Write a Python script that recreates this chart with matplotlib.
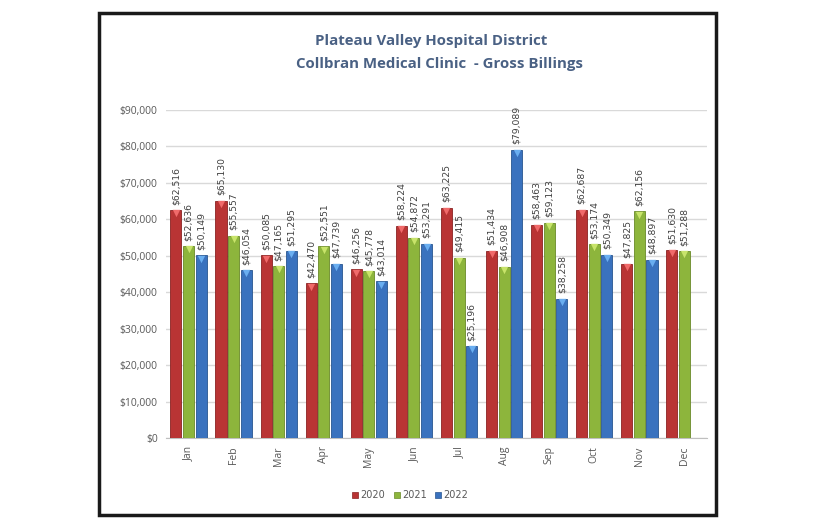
import matplotlib
matplotlib.use("Agg")
import matplotlib.pyplot as plt
import numpy as np
from matplotlib.patches import Rectangle
from matplotlib.lines import Line2D

months = ["Jan", "Feb", "Mar", "Apr", "May", "Jun", "Jul", "Aug", "Sep", "Oct", "Nov", "Dec"]
years = ["2020", "2021", "2022"]
v2020 = [62516, 65130, 50085, 42470, 46256, 58224, 63225, 51434, 58463, 62687, 47825, 51630]
v2021 = [52636, 55557, 47165, 52551, 45778, 54872, 49415, 46908, 59123, 53174, 62156, 51288]
v2022 = [50149, 46054, 51295, 47739, 43014, 53291, 25196, 79089, 38258, 50349, 48897, None]
yticks = [0, 10000, 20000, 30000, 40000, 50000, 60000, 70000, 80000, 90000]

colors = ["#B93434", "#8DB53C", "#3A72BE"]
tops = ["#F06A6A", "#C8E46A", "#6AAEF0"]
edges = ["#8A2222", "#6A8A28", "#285590"]

fig = plt.figure(figsize=(8.16, 5.28), dpi=100)
ax = fig.add_axes([166/816, 1-438/528, (707-166)/816, (438-110)/528])

x = np.arange(len(months))
step = 0.28
width = 0.245
series = [v2020, v2021, v2022]
for i, vals in enumerate(series):
    xs = [xi + (i-1)*step for xi, v in zip(x, vals) if v is not None]
    vs = [v for v in vals if v is not None]
    ax.bar(xs, vs, width=width, color=colors[i], edgecolor=edges[i], linewidth=0.6, zorder=3)
    ax.scatter(xs, [v - 900 for v in vs], marker="v", s=28, color=tops[i], zorder=4, linewidths=0)
    for xx, vv in zip(xs, vs):
        ax.annotate(f"${vv:,}", (xx, vv), xytext=(0, 4), textcoords="offset points",
                    rotation=90, ha="center", va="bottom", fontsize=6.7, color="#404040",
                    annotation_clip=False)

ax.set_ylim(0, 90000)
ax.set_xlim(-0.5, 11.5)
ax.set_yticks(yticks)
ax.set_yticklabels([f"${t:,}" for t in yticks], fontsize=7.5, color="#595959", family="Open Sans")
ax.set_xticks(x)
ax.set_xticklabels(months, rotation=90, fontsize=7.5, color="#595959", family="Open Sans")
ax.tick_params(axis="both", length=0, pad=6)
ax.grid(axis="y", color="#D9D9D9", linewidth=1, zorder=0)
for s in ["top", "right", "left"]:
    ax.spines[s].set_visible(False)
ax.spines["bottom"].set_color("#BFBFBF")

fig.text(431/816, 1-41/528, "Plateau Valley Hospital District", ha="center", va="center",
         fontsize=10.8, fontweight="bold", color="#4A6184", family="Open Sans")
fig.text(440/816, 1-64/528, "Collbran Medical Clinic  - Gross Billings", ha="center", va="center",
         fontsize=10.8, fontweight="bold", color="#4A6184", family="Open Sans")

handles = [Line2D([], [], marker="s", linestyle="none", markersize=5, markerfacecolor=c,
                  markeredgecolor=e, markeredgewidth=0.5) for c, e in zip(colors, edges)]
leg = fig.legend(handles, years, loc="center", bbox_to_anchor=(410/816, 1-495/528), ncol=3,
                 frameon=False, fontsize=7, handlelength=0.7, handletextpad=0.2, columnspacing=0.8)
for t in leg.get_texts():
    t.set_color("#595959")

fig.patches.append(Rectangle((99/816, 1-515/528), (716-99)/816, (515-13)/528,
                             transform=fig.transFigure, fill=False, edgecolor="#1A1A1A", linewidth=2.5))

fig.savefig("out.png", dpi=100)
